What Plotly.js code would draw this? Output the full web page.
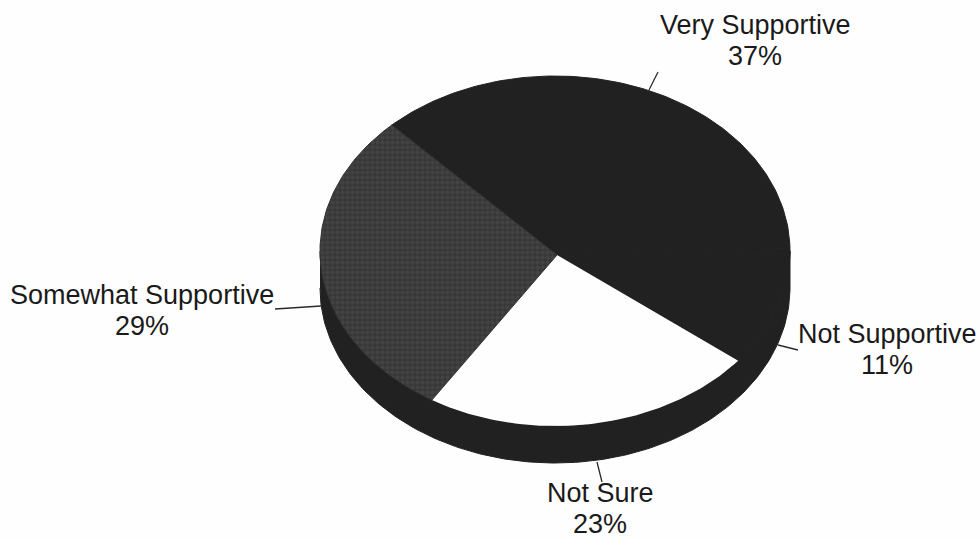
<!DOCTYPE html>
<html>
<head>
<meta charset="utf-8">
<script src="https://cdn.plot.ly/plotly-3.0.1.min.js"></script>
<style>html,body{margin:0;padding:0;background:#fefefe}#chart{width:980px;height:539px}</style>
</head>
<body>
<div id="chart"></div>
<script>
// Data, in the drawing order of the reference (clockwise from the grey/black boundary)
var categories = ["Very Supportive", "Not Supportive", "Not Sure", "Somewhat Supportive"];
var shares = [37, 11, 23, 29];

// Styles and layout
var sliceColors = ["#212121", "#212121", "#fefefe", "#383838"];
var labelCentres = [[755, 25], [887, 334], [600, 493], [142, 295]];
var leaders = [[[649, 90], [658, 72]], [[778, 345], [798, 350]], [[597, 462], [602, 482]], [[275, 309], [321, 306]]];

var cx = 555, cy = 251, rx = 235, ry = 175, depth = 37, startDeg = 134;
var apexX = 557, apexY = 255;
var lineGap = 31, fontSize = 27;

function arc(fromDeg, toDeg, yOffset) {
  var xs = [], ys = [], n = Math.max(2, Math.ceil(Math.abs(toDeg - fromDeg)));
  for (var i = 0; i <= n; i++) {
    var a = (fromDeg + (toDeg - fromDeg) * i / n) * Math.PI / 180;
    xs.push(cx + rx * Math.cos(a));
    ys.push(cy + yOffset - ry * Math.sin(a));
  }
  return {x: xs, y: ys};
}

var traces = [];

// extruded wall
var lower = arc(180, 360, depth), upper = arc(360, 180, 0);
traces.push({
  type: "scatter", mode: "lines", x: lower.x.concat(upper.x), y: lower.y.concat(upper.y),
  fill: "toself", fillcolor: "#212121", line: {width: 1, color: "#212121"}, hoverinfo: "skip"
});

// top face, one wedge per value
var total = shares.reduce(function (s, v) { return s + v; }, 0);
var angle = startDeg;
categories.forEach(function (name, i) {
  var next = angle - shares[i] / total * 360;
  var a = arc(angle, next, 0);
  var isWhite = sliceColors[i] === "#fefefe";
  var t = {
    type: "scatter", mode: "lines", name: name,
    x: [apexX].concat(a.x, [apexX]), y: [apexY].concat(a.y, [apexY]),
    fill: "toself", fillcolor: sliceColors[i],
    line: {width: isWhite ? 0 : 1, color: sliceColors[i] === "#383838" ? "#303030" : sliceColors[i]},
    text: name + ": " + shares[i] + "%", hoverinfo: "text", hoveron: "fills"
  };
  if (name === "Somewhat Supportive") {
    t.fillpattern = {shape: ".", bgcolor: "#383838", fgcolor: "#434343", size: 5, solidity: 0.5};
  }
  traces.push(t);
  angle = next;
});

// leader lines
leaders.forEach(function (l) {
  traces.push({
    type: "scatter", mode: "lines", x: [l[0][0], l[1][0]], y: [l[0][1], l[1][1]],
    line: {color: "#2a2a2a", width: 1.3}, hoverinfo: "skip"
  });
});

// labels
var annotations = [];
categories.forEach(function (name, i) {
  var c = labelCentres[i];
  [name, shares[i] + "%"].forEach(function (txt, k) {
    annotations.push({
      x: c[0], y: c[1] + k * lineGap, xref: "x", yref: "y", text: txt, showarrow: false,
      xanchor: "center", yanchor: "middle",
      font: {family: "Liberation Sans, Arial, sans-serif", size: fontSize, color: "#1a1a1a"}
    });
  });
});

var layout = {
  width: 980, height: 539, showlegend: false,
  margin: {l: 0, r: 0, t: 0, b: 0},
  paper_bgcolor: "#fefefe", plot_bgcolor: "#fefefe",
  xaxis: {range: [0, 980], visible: false, fixedrange: true},
  yaxis: {range: [539, 0], visible: false, fixedrange: true},
  annotations: annotations
};
Plotly.newPlot("chart", traces, layout, {displayModeBar: false});
</script>
</body>
</html>
